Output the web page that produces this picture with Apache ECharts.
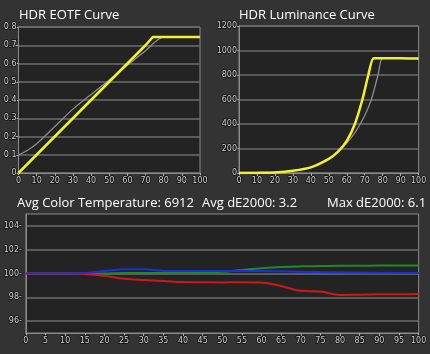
<!DOCTYPE html>
<html>
<head>
<meta charset="utf-8">
<script src="https://cdn.jsdelivr.net/npm/echarts@6/dist/echarts.min.js"></script>
<style>
  html, body { margin: 0; padding: 0; background: #333333; }
  #chart { width: 430px; height: 354px; }
</style>
</head>
<body>
<div id="chart"></div>
<script>
// EOTF curve
const eotfX = [0, 10, 20, 30, 40, 50, 60, 70, 74, 80, 90, 100];
const eotfMeasured = [0, 0.1, 0.2, 0.3, 0.4, 0.5, 0.6, 0.7, 0.745, 0.745, 0.745, 0.745];
const eotfTargetX = [0, 5, 10, 20, 30, 40, 50, 60, 70, 80, 90, 100];
const eotfTarget = [0.1, 0.125, 0.16, 0.255, 0.35, 0.43, 0.51, 0.59, 0.67, 0.745, 0.745, 0.745];

// luminance curve
const lumX = [0, 10, 20, 30, 40, 50, 55, 60, 64.5, 68.7, 72, 75, 80, 90, 100];
const lumMeasured = [0, 1, 4, 18, 46, 115, 172, 262, 400, 600, 800, 936, 936, 936, 935];
const lumTargetX = [0, 10, 20, 30, 40, 50, 55, 60, 65, 70, 73.7, 77.4, 80, 90, 100];
const lumTarget = [4, 4, 7, 20, 48, 115, 172, 245, 340, 470, 600, 800, 935, 935, 935];

// RGB balance
const rgbX = [0, 5, 10, 15, 20, 25, 30, 35, 40, 45, 50, 55, 60, 65, 70, 75, 80, 85, 90, 95, 100];
const red = [100, 100, 100, 99.95, 99.8, 99.55, 99.45, 99.38, 99.28, 99.27, 99.25, 99.27, 99.24, 98.95, 98.55, 98.48, 98.2, 98.22, 98.25, 98.25, 98.27];
const green = [100, 100, 100, 100, 100, 100.05, 100.05, 100.05, 100.05, 100.1, 100.15, 100.3, 100.45, 100.55, 100.6, 100.62, 100.65, 100.65, 100.67, 100.67, 100.67];
const blue = [100, 100, 100, 100.05, 100.2, 100.35, 100.35, 100.22, 100.2, 100.2, 100.2, 100.2, 100.2, 100.18, 100.15, 100.12, 100.1, 100.08, 100.06, 100.05, 100.05];

const pairs = (xs, ys) => xs.map((x, i) => [x, ys[i]]);

const axisText = {color: '#d0d0d0', fontSize: 8, fontFamily: 'DejaVu Sans', textBorderColor: '#111', textBorderWidth: 1.5};
const axisLine = {show: true, lineStyle: {color: '#8a8a8a', width: 1}};
const gridLine = {show: true, lineStyle: {color: '#6e6e6e', width: 1.5}};

const chart = echarts.init(document.getElementById('chart'), null, {renderer: 'canvas'});

const titleStyle = {color: '#ffffff', fontSize: 13, fontWeight: 'normal', fontFamily: 'Open Sans'};

chart.setOption({
  backgroundColor: '#333333',
  animation: false,
  title: [
    {text: 'HDR EOTF Curve', left: 14, top: 4, textStyle: titleStyle},
    {text: 'HDR Luminance Curve', left: 234, top: 4, textStyle: titleStyle},
    {text: 'Avg Color Temperature: 6912', left: 12, top: 192, textStyle: titleStyle},
    {text: 'Avg dE2000: 3.2', left: 197, top: 192, textStyle: titleStyle},
    {text: 'Max dE2000: 6.1', left: 322, top: 192, textStyle: titleStyle}
  ],
  grid: [
    {left: 15, top: 27, width: 185, height: 146, show: true, backgroundColor: '#232323', borderColor: '#8a8a8a', borderWidth: 1},
    {left: 239, top: 26, width: 180, height: 147, show: true, backgroundColor: '#232323', borderColor: '#8a8a8a', borderWidth: 1},
    {left: 17, top: 214, width: 402, height: 119, show: true, backgroundColor: '#232323', borderColor: '#8a8a8a', borderWidth: 1}
  ],
  xAxis: [
    {gridIndex: 0, type: 'value', min: 0, max: 100, interval: 10, axisLine: axisLine, splitLine: {show: false},
      axisTick: {show: true, length: 3, lineStyle: {color: '#aaa'}}, axisLabel: Object.assign({margin: 4}, axisText)},
    {gridIndex: 1, type: 'value', min: 0, max: 100, interval: 10, axisLine: axisLine, splitLine: {show: false},
      axisTick: {show: true, length: 3, lineStyle: {color: '#aaa'}}, axisLabel: Object.assign({margin: 4}, axisText)},
    {gridIndex: 2, type: 'value', min: 0, max: 100, interval: 5, axisLine: axisLine, splitLine: {show: false},
      axisTick: {show: true, length: 3, lineStyle: {color: '#aaa'}}, axisLabel: Object.assign({margin: 4}, axisText)}
  ],
  yAxis: [
    {gridIndex: 0, type: 'value', min: 0, max: 0.8, interval: 0.1, axisLine: axisLine, splitLine: gridLine,
      axisTick: {show: true, length: 3, lineStyle: {color: '#aaa'}},
      axisLabel: Object.assign({margin: 2, formatter: v => v === 0 ? '0' : String(+v.toFixed(1))}, axisText)},
    {gridIndex: 1, type: 'value', min: 0, max: 1200, interval: 200, axisLine: axisLine, splitLine: gridLine,
      axisTick: {show: true, length: 3, lineStyle: {color: '#aaa'}},
      axisLabel: Object.assign({margin: 2, formatter: v => String(v)}, axisText)},
    {gridIndex: 2, type: 'value', min: 95, max: 105, interval: 1, axisLine: axisLine,
      splitLine: {show: true, lineStyle: {color: ['rgba(0,0,0,0)', '#6e6e6e'], width: 1.5}},
      axisTick: {show: false},
      axisLabel: Object.assign({margin: 4, formatter: v => (Math.round(v) % 2 === 0 ? v + '-' : '')}, axisText)}
  ],
  series: [
    {type: 'line', xAxisIndex: 0, yAxisIndex: 0, data: pairs(eotfTargetX, eotfTarget), smooth: 0.3, showSymbol: false,
      lineStyle: {color: '#8c8c8c', width: 1.3}},
    {type: 'line', xAxisIndex: 0, yAxisIndex: 0, data: pairs(eotfX, eotfMeasured), showSymbol: false,
      lineStyle: {color: '#f2f030', width: 2.5}},
    {type: 'line', xAxisIndex: 1, yAxisIndex: 1, data: pairs(lumTargetX, lumTarget), smooth: 0.25, showSymbol: false,
      lineStyle: {color: '#8c8c8c', width: 1.3}},
    {type: 'line', xAxisIndex: 1, yAxisIndex: 1, data: pairs(lumX, lumMeasured), smooth: 0.25, showSymbol: false,
      lineStyle: {color: '#f2f030', width: 2.5}},
    {type: 'line', xAxisIndex: 2, yAxisIndex: 2, data: pairs(rgbX, green), smooth: 0.4, showSymbol: false,
      lineStyle: {color: '#1e8a2a', width: 2}},
    {type: 'line', xAxisIndex: 2, yAxisIndex: 2, data: pairs(rgbX, red), smooth: 0.4, showSymbol: false,
      lineStyle: {color: '#d01818', width: 2}},
    {type: 'line', xAxisIndex: 2, yAxisIndex: 2, data: pairs(rgbX, blue), smooth: 0.4, showSymbol: false,
      lineStyle: {color: '#1c2ee0', width: 2}}
  ]
});
</script>
</body>
</html>
